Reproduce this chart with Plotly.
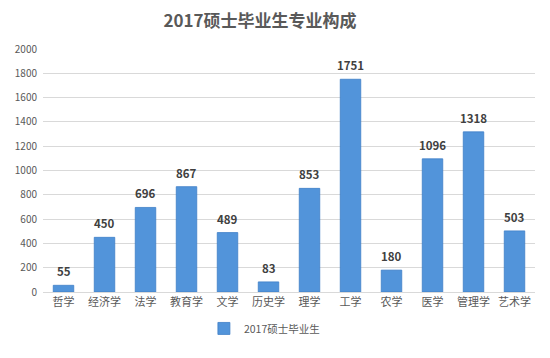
import plotly.graph_objects as go

categories = ["哲学", "经济学", "法学", "教育学", "文学", "历史学", "理学", "工学", "农学", "医学", "管理学", "艺术学"]
values = [55, 450, 696, 867, 489, 83, 853, 1751, 180, 1096, 1318, 503]
series_name = "2017硕士毕业生"
title_text = "2017硕士毕业生专业构成"
y_ticks = [0, 200, 400, 600, 800, 1000, 1200, 1400, 1600, 1800, 2000]

font_family = "Noto Sans CJK SC, Microsoft YaHei, sans-serif"

fig = go.Figure()
fig.add_trace(go.Bar(
    x=categories, y=values, name=series_name,
    marker=dict(color="#5294DA", line=dict(color="#3F7FC8", width=0.8)),
    showlegend=True,
))

annotations = [
    dict(x=c, y=v, xref="x", yref="y", text="<b>%d</b>" % v, showarrow=False,
         yanchor="bottom", yshift=4, font=dict(size=11.5, color="#404040", family=font_family))
    for c, v in zip(categories, values)
]

fig.update_layout(
    width=534, height=342,
    margin=dict(l=30, r=7, t=41, b=48),
    paper_bgcolor="white", plot_bgcolor="white",
    font=dict(family=font_family, color="#595959", size=11),
    title=dict(text="<b>" + title_text + "</b>", x=0.472, xanchor="center", y=0.962, yanchor="middle",
               font=dict(size=17, color="#595959", family=font_family)),
    bargap=0.5,
    showlegend=True,
    legend=dict(orientation="h", x=0.45, xanchor="center", y=-0.15, yanchor="middle",
                font=dict(size=10.5, color="#595959")),
    xaxis=dict(showline=True, linecolor="#D9D9D9", linewidth=1, ticks="", tickfont=dict(size=11)),
    yaxis=dict(range=[0, 2000], tickvals=y_ticks, showgrid=True, gridcolor="#D9D9D9",
               zeroline=False, showline=False, ticks="", tickfont=dict(size=10), ticklabelstandoff=5),
    annotations=annotations,
)

fig.write_html("out.html")
